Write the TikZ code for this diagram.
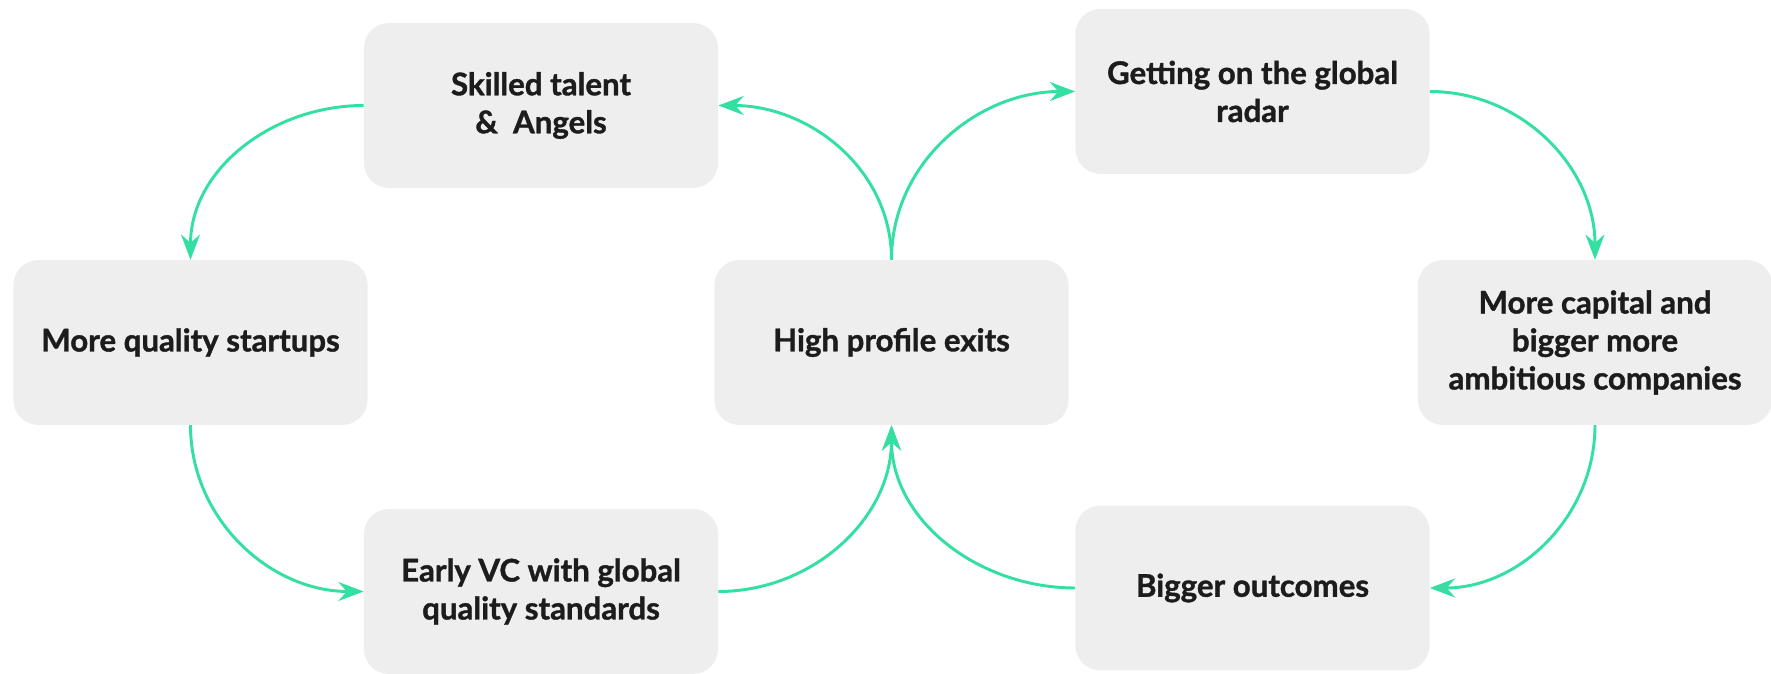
\documentclass[tikz,border=0pt]{standalone}
\usepackage{fontspec}
\setmainfont{Lato}[BoldFeatures={FakeBold=1.2}]
\usepackage{tikz}
\usetikzlibrary{arrows.meta}
\definecolor{loopgreen}{HTML}{34DFA2}
\definecolor{boxgrey}{HTML}{EEEEEE}
\definecolor{inkdark}{HTML}{1C1C1C}

\begin{document}
\begin{tikzpicture}[x=0.025cm, y=-0.025cm,
      stage/.style={draw=none, fill=boxgrey, rounded corners=0.62cm,
            minimum width=8.85cm, minimum height=4.12cm, align=center,
            text=inkdark, font=\fontsize{22.2}{27}\selectfont\bfseries},
      flow/.style={draw=loopgreen, line width=2.1pt,
            -{Stealth[length=18pt, width=13.5pt, inset=6pt]}}]
      \useasboundingbox (0, 0) rectangle (1771, 674);
      \node [stage] (skill) at (541, 105.5) {Skilled talent\\\&\ \ Angels};
      \node [stage] (radar) at (1252.5, 91.5) {Getting on the global\\radar};
      \node [stage] (quality) at (190.5, 342.5) {More quality startups};
      \node [stage] (exits) at (891.5, 342.5) {High profile exits};
      \node [stage] (capital) at (1595, 342.5) {More capital and\\bigger more\\ambitious companies};
      \node [stage] (earlyvc) at (541, 591.5) {Early VC with global\\quality standards};
      \node [stage] (outcome) at (1252.5, 588) {Bigger outcomes};
      \draw[flow] (skill.west) to [out=180, in=90] (quality.north);
      \draw[flow] (quality.south) to [out=-90, in=180] (earlyvc.west);
      \draw[flow] (earlyvc.east) to [out=0, in=-90] (exits.south);
      \draw[flow] (exits.north) to [out=90, in=0] (skill.east);
      \draw[flow] (exits.north) to [out=90, in=180] (radar.west);
      \draw[flow] (radar.east) to [out=0, in=90] (capital.north);
      \draw[flow] (capital.south) to [out=-90, in=0] (outcome.east);
      \draw[flow] (outcome.west) to [out=180, in=-90] (exits.south);
\end{tikzpicture}
\end{document}
